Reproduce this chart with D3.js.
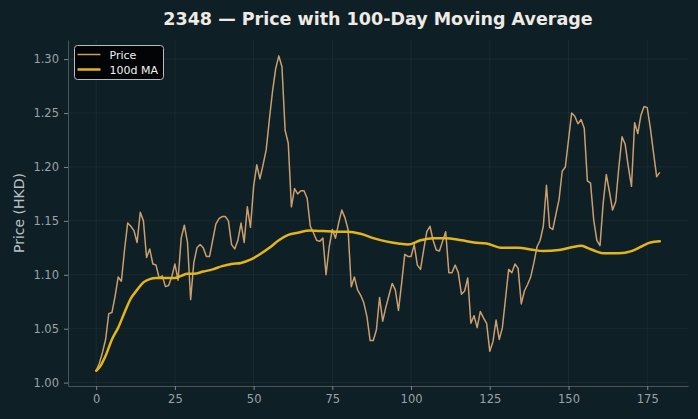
<!DOCTYPE html>
<html lang="en">
<head>
  <meta charset="UTF-8">
  <title>2348 — Price with 100-Day Moving Average</title>
  <script src="https://d3js.org/d3.v7.min.js"></script>
  <style>
    body {
      margin: 0;
      background: #0f1f26;
      font-family: "DejaVu Sans", sans-serif;
    }
    svg { display: block; }
  </style>
</head>
<body>
  <div id="chart"></div>

  <script>
    // closing price per trading day (index 0..179)
    const price = [
      1.011, 1.018, 1.028, 1.040, 1.064, 1.065, 1.080, 1.098, 1.094, 1.123,
      1.148, 1.145, 1.141, 1.130, 1.158, 1.150, 1.116, 1.124, 1.110, 1.109,
      1.097, 1.099, 1.089, 1.090, 1.098, 1.110, 1.095, 1.134, 1.146, 1.130,
      1.077, 1.111, 1.125, 1.128, 1.125, 1.117, 1.117, 1.132, 1.147, 1.152,
      1.154, 1.154, 1.150, 1.128, 1.124, 1.132, 1.148, 1.130, 1.163, 1.144,
      1.182, 1.202, 1.189, 1.202, 1.216, 1.244, 1.270, 1.291, 1.303, 1.293,
      1.234, 1.222, 1.163, 1.180, 1.175, 1.178, 1.178, 1.171, 1.145, 1.139,
      1.132, 1.131, 1.134, 1.100, 1.126, 1.142, 1.134, 1.148, 1.160, 1.153,
      1.142, 1.089, 1.098, 1.086, 1.081, 1.074, 1.061, 1.039, 1.039, 1.049,
      1.079, 1.057, 1.070, 1.081, 1.092, 1.086, 1.067, 1.092, 1.119, 1.117,
      1.117, 1.128, 1.109, 1.105, 1.123, 1.140, 1.145, 1.132, 1.123, 1.122,
      1.131, 1.140, 1.102, 1.102, 1.109, 1.102, 1.082, 1.085, 1.097, 1.055,
      1.062, 1.051, 1.066, 1.060, 1.055, 1.029, 1.038, 1.058, 1.040, 1.051,
      1.078, 1.105, 1.102, 1.110, 1.106, 1.073, 1.085, 1.091, 1.098, 1.111,
      1.126, 1.132, 1.145, 1.183, 1.144, 1.142, 1.156, 1.170, 1.196, 1.200,
      1.225, 1.250, 1.247, 1.240, 1.244, 1.236, 1.187, 1.185, 1.151, 1.132,
      1.127, 1.166, 1.193, 1.177, 1.160, 1.168, 1.200, 1.228, 1.221, 1.200,
      1.182, 1.241, 1.231, 1.248, 1.256, 1.255, 1.236, 1.213, 1.191, 1.195
    ];

    // 100-day moving average, read at these days
    const maDays = [
      0, 1, 3, 5, 7, 9, 11, 13, 15, 17, 19, 22, 25, 27, 29, 31, 34, 37, 40, 43,
      46, 49, 52, 55, 58, 61, 64, 68, 72, 76, 80, 84, 88, 92, 96, 99, 103, 107,
      111, 116, 120, 124, 129, 134, 138, 142, 147, 151, 154, 156, 159, 161, 166,
      170, 173, 176, 179
    ];
    const maValues = [
      1.011, 1.014, 1.025, 1.040, 1.051, 1.065, 1.078, 1.086, 1.093, 1.096,
      1.097, 1.097, 1.097, 1.099, 1.101, 1.101, 1.103, 1.105, 1.108, 1.110,
      1.111, 1.114, 1.119, 1.125, 1.132, 1.137, 1.139, 1.141, 1.1405, 1.140,
      1.140, 1.138, 1.134, 1.131, 1.129, 1.128, 1.132, 1.134, 1.134, 1.132,
      1.130, 1.129, 1.125, 1.125, 1.1235, 1.122, 1.123, 1.1255, 1.127, 1.125,
      1.1215, 1.120, 1.120, 1.122, 1.126, 1.130, 1.131
    ];

    const xTicks = [0, 25, 50, 75, 100, 125, 150, 175];
    const yTicks = [1.00, 1.05, 1.10, 1.15, 1.20, 1.25, 1.30];

    const width = 698, height = 419;
    const margin = { top: 40, right: 10, bottom: 33, left: 68 };

    const svg = d3.select("#chart").append("svg")
      .attr("width", width)
      .attr("height", height);

    svg.append("rect")
      .attr("width", width).attr("height", height)
      .attr("fill", "#0f1f26");

    const x = d3.scaleLinear()
      .domain([-8.95, 187.95])
      .range([margin.left, width - margin.right]);

    const y = d3.scaleLinear()
      .domain([0.99687, 1.31773])
      .range([height - margin.bottom, margin.top]);

    // grid
    const grid = svg.append("g").attr("stroke", "#ffffff").attr("stroke-opacity", 0.05);
    grid.selectAll(".gx").data(xTicks).enter().append("line")
      .attr("x1", d => x(d)).attr("x2", d => x(d))
      .attr("y1", margin.top).attr("y2", height - margin.bottom);
    grid.selectAll(".gy").data(yTicks).enter().append("line")
      .attr("y1", d => y(d)).attr("y2", d => y(d))
      .attr("x1", margin.left).attr("x2", width - margin.right);

    // axes
    const xAxis = svg.append("g")
      .attr("transform", `translate(0,${height - margin.bottom})`)
      .call(d3.axisBottom(x).tickValues(xTicks).tickSize(4).tickPadding(5).tickSizeOuter(0));
    const yAxis = svg.append("g")
      .attr("transform", `translate(${margin.left},0)`)
      .call(d3.axisLeft(y).tickValues(yTicks).tickFormat(d3.format(".2f")).tickSize(4).tickPadding(5).tickSizeOuter(0));

    [xAxis, yAxis].forEach(g => {
      g.select(".domain").attr("stroke", "#4a555a");
      g.selectAll(".tick line").attr("stroke", "#7d878b");
      g.selectAll("text")
        .attr("fill", "#99a3a7")
        .style("font-family", "DejaVu Sans")
        .style("font-size", "11.5px");
    });

    // lines
    svg.append("path")
      .datum(price)
      .attr("fill", "none")
      .attr("stroke", "#c99f6e")
      .attr("stroke-width", 1.5)
      .attr("stroke-linejoin", "round")
      .attr("d", d3.line().x((d, i) => x(i)).y(d => y(d)));

    svg.append("path")
      .datum(maDays.map((d, i) => [d, maValues[i]]))
      .attr("fill", "none")
      .attr("stroke", "#e3b51c")
      .attr("stroke-width", 2.5)
      .attr("stroke-linecap", "round")
      .attr("d", d3.line().curve(d3.curveMonotoneX).x(d => x(d[0])).y(d => y(d[1])));

    // title & label
    svg.append("text")
      .attr("x", (margin.left + width - margin.right) / 2)
      .attr("y", 25)
      .attr("text-anchor", "middle")
      .attr("fill", "#eeeae4")
      .style("font-size", "17.5px")
      .style("font-weight", "bold")
      .text("2348 — Price with 100-Day Moving Average");

    svg.append("text")
      .attr("transform", `translate(24,${(margin.top + height - margin.bottom) / 2}) rotate(-90)`)
      .attr("text-anchor", "middle")
      .attr("fill", "#b9c1c4")
      .style("font-size", "14px")
      .text("Price (HKD)");

    // legend
    const legend = svg.append("g").attr("transform", "translate(74.5,45.5)");
    legend.append("rect")
      .attr("width", 89).attr("height", 34).attr("rx", 3)
      .attr("fill", "#000000").attr("fill-opacity", 0.85)
      .attr("stroke", "#b8bcbe").attr("stroke-width", 1);
    const items = [
      { label: "Price", color: "#c99f6e", w: 1.5 },
      { label: "100d MA", color: "#e3b51c", w: 2.5 }
    ];
    items.forEach((it, i) => {
      const yy = 9 + i * 15;
      legend.append("line")
        .attr("x1", 3).attr("x2", 26).attr("y1", yy).attr("y2", yy)
        .attr("stroke", it.color).attr("stroke-width", it.w);
      legend.append("text")
        .attr("x", 35).attr("y", yy + 4)
        .attr("fill", "#f0f0f0")
        .style("font-size", "11px")
        .text(it.label);
    });
  </script>
</body>
</html>
